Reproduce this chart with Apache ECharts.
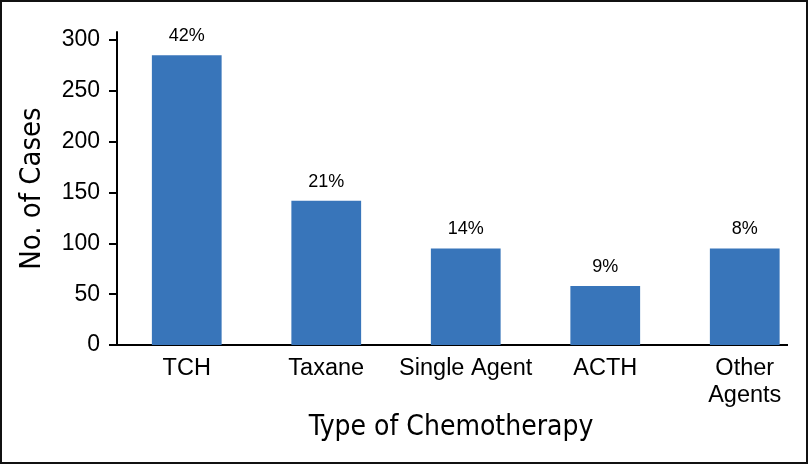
<!DOCTYPE html>
<html>
<head>
<meta charset="utf-8">
<script src="https://cdn.jsdelivr.net/npm/echarts@6/dist/echarts.min.js"></script>
<style>
html,body{margin:0;padding:0;background:#fff;}
#chart{width:812px;height:465px;}
</style>
</head>
<body>
<div id="chart"></div>
<script>
const categories = ['TCH', 'Taxane', 'Single Agent', 'ACTH', 'Other\nAgents'];
const cases = [285, 142, 95, 58, 95];
const percentLabels = ['42%', '21%', '14%', '9%', '8%'];
const yTicks = [0, 50, 100, 150, 200, 250, 300];

const chart = echarts.init(document.getElementById('chart'));
const labelFont = 'Liberation Sans, Arial, Helvetica, sans-serif';
const narrowFont = '"Liberation Sans Narrow", "Arial Narrow", "DejaVu Sans Condensed", sans-serif';

chart.setOption({
  animation: false,
  backgroundColor: '#fff',
  grid: {
    left: 117, top: 32, width: 697.5, bottom: 120,
    outerBoundsMode: 'none', containLabel: false
  },
  xAxis: {
    type: 'category',
    data: categories,
    axisLine: { show: false },
    axisTick: { show: false },
    axisLabel: {
      color: '#000', fontFamily: labelFont, fontSize: 23.5, margin: 10,
      lineHeight: 27, interval: 0
    }
  },
  yAxis: {
    type: 'value',
    min: 0, max: 308,
    splitLine: { show: false },
    axisLine: { show: true, lineStyle: { color: '#000', width: 2 } },
    axisTick: { show: true, length: 8, customValues: yTicks, lineStyle: { color: '#000', width: 2 } },
    axisLabel: { color: '#000', fontFamily: labelFont, fontSize: 23, margin: 17, customValues: yTicks },
    name: 'No. of Cases',
    nameLocation: 'middle',
    nameGap: 70,
    nameRotate: 90,
    nameTextStyle: { color: '#000', fontFamily: narrowFont, fontSize: 29 }
  },
  series: [{
    type: 'bar',
    data: cases,
    barWidth: '50%',
    itemStyle: { color: '#3875BA' },
    label: {
      show: true,
      position: 'top',
      distance: 10,
      color: '#000',
      fontFamily: labelFont,
      fontSize: 18,
      formatter: p => percentLabels[p.dataIndex]
    }
  }],
  graphic: [
    { type: 'rect', shape: { x: 1, y: 1, width: 806, height: 462 },
      style: { fill: null, stroke: '#111', lineWidth: 2 }, silent: true },
    { type: 'line', shape: { x1: 116, y1: 345, x2: 788, y2: 345 },
      style: { stroke: '#000', lineWidth: 2 }, silent: true },
    { type: 'text', style: { text: 'Type of Chemotherapy', x: 451, y: 428,
      align: 'center', verticalAlign: 'middle', fill: '#000', font: '28px ' + narrowFont }, silent: true }
  ]
});
</script>
</body>
</html>
